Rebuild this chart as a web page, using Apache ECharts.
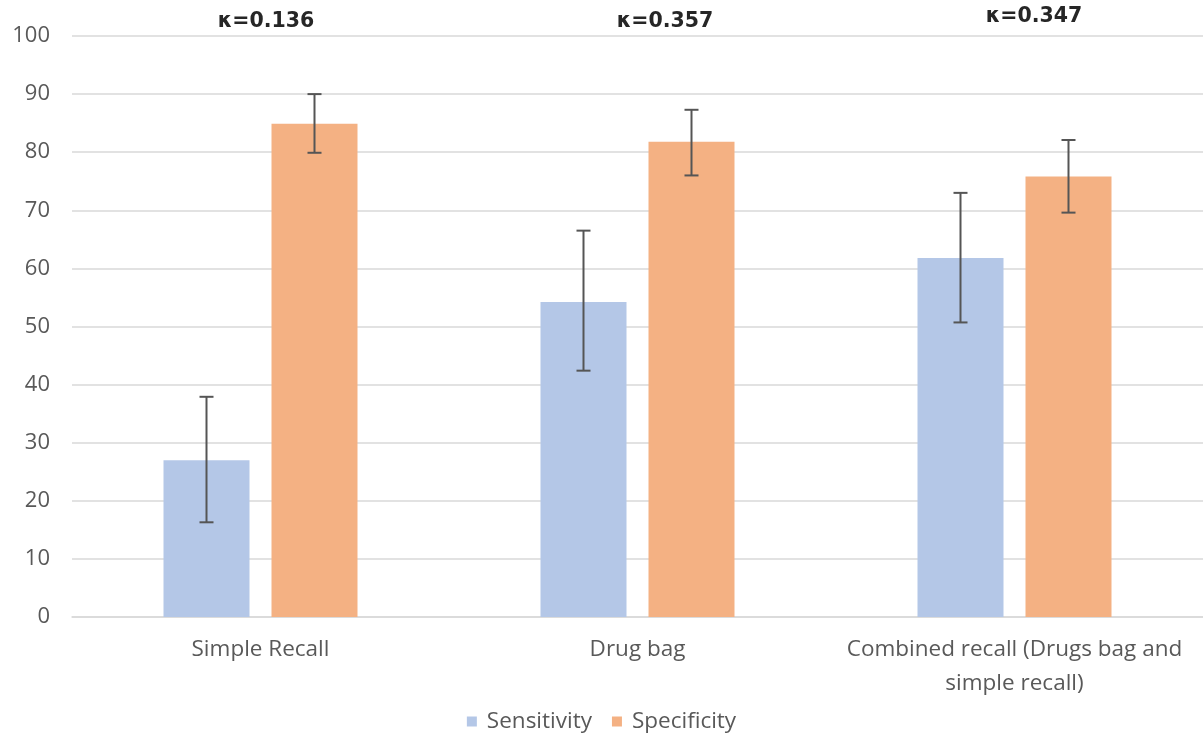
<!DOCTYPE html>
<html>
<head>
<meta charset="utf-8">
<script src="https://cdn.jsdelivr.net/npm/echarts@6/dist/echarts.min.js"></script>
<style>html,body{margin:0;padding:0;background:#fff;}#c{width:1203px;height:738px;}</style>
</head>
<body>
<div id="c"></div>
<script>
const categories = ['Simple Recall', 'Drug bag', 'Combined recall (Drugs bag and\nsimple recall)'];
const sensitivity = [27, 54.2, 61.8];
const sensLow = [16.3, 42.4, 50.7];
const sensHigh = [37.9, 66.5, 73.0];
const specificity = [84.9, 81.8, 75.8];
const specLow = [79.9, 76.0, 69.6];
const specHigh = [90.0, 87.3, 82.1];
const kappaLabels = ['κ=0.136', 'κ=0.357', 'κ=0.347'];
const yTicks = [0, 10, 20, 30, 40, 50, 60, 70, 80, 90, 100];

const BAR_W = 86;
const BAR_GAP = 22;
const FONT = '"Open Sans", sans-serif';

function errSeries(name, low, high, side) {
  return {
    type: 'custom',
    name: name + ' error',
    z: 10,
    silent: true,
    data: categories.map((c, i) => [i, low[i], high[i]]),
    renderItem: function (params, api) {
      const i = api.value(0);
      const lo = api.coord([i, api.value(1)]);
      const hi = api.coord([i, api.value(2)]);
      const x = lo[0] + side * (BAR_W + BAR_GAP) / 2;
      const cap = 7;
      const style = { stroke: '#555555', lineWidth: 2, fill: null };
      return {
        type: 'group',
        children: [
          { type: 'line', shape: { x1: x, y1: lo[1], x2: x, y2: hi[1] }, style },
          { type: 'line', shape: { x1: x - cap, y1: lo[1], x2: x + cap, y2: lo[1] }, style },
          { type: 'line', shape: { x1: x - cap, y1: hi[1], x2: x + cap, y2: hi[1] }, style }
        ]
      };
    }
  };
}

const kFont = 'bold 20.5px "DejaVu Sans", sans-serif';
const chart = echarts.init(document.getElementById('c'));
chart.setOption({
  animation: false,
  backgroundColor: '#fff',
  grid: { left: 72, right: 0, top: 36, bottom: 121, containLabel: false },
  legend: {
    bottom: 0,
    left: 'center',
    icon: 'rect',
    itemWidth: 10,
    itemHeight: 10,
    itemGap: 20,
    data: ['Sensitivity', 'Specificity'],
    textStyle: { fontFamily: FONT, fontSize: 22.5, color: '#595959', padding: [0, 0, 0, 5] }
  },
  xAxis: {
    type: 'category',
    data: categories,
    axisLine: { show: true, lineStyle: { color: '#d9d9d9', width: 1.5 } },
    axisTick: { show: false },
    axisLabel: { fontFamily: FONT, fontSize: 22.5, color: '#595959', margin: 16, lineHeight: 34, interval: 0 }
  },
  yAxis: {
    type: 'value',
    min: 0,
    max: 100,
    interval: 10,
    axisLine: { show: false },
    axisTick: { show: false },
    axisLabel: { fontFamily: FONT, fontSize: 22, color: '#595959', margin: 22,
      formatter: v => yTicks.includes(v) ? String(v) : '' },
    splitLine: { lineStyle: { color: '#d9d9d9', width: 1.5 } }
  },
  series: [
    { type: 'bar', name: 'Sensitivity', data: sensitivity, barWidth: BAR_W, barGap: (BAR_GAP / BAR_W * 100) + '%',
      itemStyle: { color: '#b4c7e7' } },
    { type: 'bar', name: 'Specificity', data: specificity, barWidth: BAR_W,
      itemStyle: { color: '#f4b183' } },
    errSeries('Sensitivity', sensLow, sensHigh, -1),
    errSeries('Specificity', specLow, specHigh, 1)
  ],
  graphic: [
    { type: 'text', x: 266, y: 22, style: { text: kappaLabels[0], font: kFont, fill: '#262626', align: 'center', verticalAlign: 'middle' } },
    { type: 'text', x: 665, y: 22, style: { text: kappaLabels[1], font: kFont, fill: '#262626', align: 'center', verticalAlign: 'middle' } },
    { type: 'text', x: 1034, y: 17, style: { text: kappaLabels[2], font: kFont, fill: '#262626', align: 'center', verticalAlign: 'middle' } }
  ]
});
</script>
</body>
</html>
